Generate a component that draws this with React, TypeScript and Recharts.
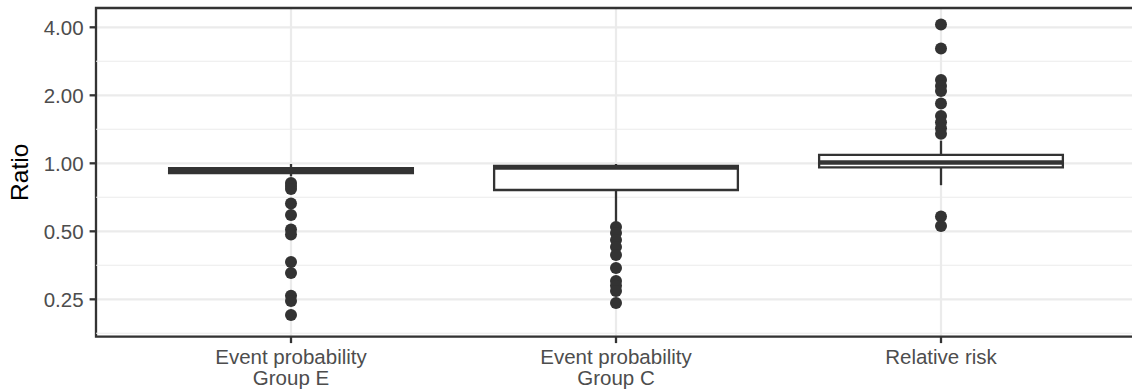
import React from "react";
import {
  ComposedChart,
  XAxis,
  YAxis,
  CartesianGrid,
  Scatter,
  ReferenceArea,
  ReferenceLine,
} from "recharts";

// ---- data ----
const categories = ["Event probability\nGroup E", "Event probability\nGroup C", "Relative risk"];
const whiskerLow = [0.875, 0.551, 0.8];
const q1 = [0.905, 0.762, 0.96];
const median = [0.93, 0.958, 1.008];
const q3 = [0.952, 0.973, 1.09];
const whiskerHigh = [0.993, 0.993, 1.26];
const outliersE = [0.818, 0.794, 0.77, 0.664, 0.59, 0.509, 0.484, 0.366, 0.327, 0.259, 0.246, 0.213];
const outliersC = [0.522, 0.491, 0.458, 0.426, 0.393, 0.344, 0.301, 0.287, 0.272, 0.241];
const outliersRR = [4.12, 3.22, 2.34, 2.2, 2.09, 1.84, 1.62, 1.52, 1.43, 1.35, 0.582, 0.528];
const yTicks = [0.25, 0.5, 1, 2, 4];
const yMinor = [0.1768, 0.3536, 0.7071, 1.4142, 2.8284];
const yDomain = [0.1708, 4.87];

const outlierSets = [outliersE, outliersC, outliersRR];
const outlierData = outlierSets.flatMap((arr, i) => arr.map((v) => ({ x: i + 1, y: v })));

const FONT = "'Liberation Sans', Arial, Helvetica, sans-serif";
const DARK = "#333333";
const HALF = 0.375;

const XTick = (props: any) => {
  const { x, y, payload } = props;
  const lines = categories[Math.round(payload.value) - 1].split("\n");
  return (
    <text x={x} y={y} textAnchor="middle" fill="#4d4d4d" fontSize={20.5} fontFamily={FONT}>
      {lines.map((l, i) => (
        <tspan key={i} x={x} dy={i === 0 ? 20.5 : 21}>
          {l}
        </tspan>
      ))}
    </text>
  );
};

const Dot = (props: any) => <circle cx={props.cx} cy={props.cy} r={6} fill={DARK} />;

export default function App() {
  return (
    <div style={{ position: "absolute", left: 0, top: 0, width: 1132, height: 390, overflow: "hidden", background: "#fff" }}>
      <ComposedChart width={1140} height={390} margin={{ top: 8, right: 4, bottom: 0, left: 0 }}>
        <CartesianGrid stroke="#ebebeb" strokeWidth={2.2} />
        <XAxis
          type="number"
          dataKey="x"
          domain={[0.4, 3.6]}
          ticks={[1, 2, 3]}
          allowDataOverflow
          height={53.3}
          tickSize={6.4}
          tickMargin={0}
          axisLine={false}
          tickLine={{ stroke: DARK, strokeWidth: 2.3 }}
          tick={<XTick />}
          interval={0}
        />
        <YAxis
          type="number"
          dataKey="y"
          scale="log"
          domain={yDomain}
          allowDataOverflow
          ticks={yTicks}
          interval={0}
          width={96}
          tickSize={6.4}
          tickMargin={6}
          axisLine={false}
          tickLine={{ stroke: DARK, strokeWidth: 2.3 }}
          tick={{ fill: "#4d4d4d", fontSize: 20.5, fontFamily: FONT }}
          tickFormatter={(v: number) => v.toFixed(2)}
          label={{
            content: (p: any) => {
              const vb = p.viewBox || {};
              const cy = (vb.y ?? 8) + (vb.height ?? 328.7) / 2;
              return (
                <text
                  transform={`translate(28, ${cy}) rotate(-90)`}
                  textAnchor="middle"
                  fill="#000"
                  fontSize={24.5}
                  fontFamily={FONT}
                >
                  Ratio
                </text>
              );
            },
          }}
        />
        {yMinor.map((v) => (
          <ReferenceLine key={"m" + v} y={v} stroke="#ebebeb" strokeWidth={1.1} />
        ))}
        <Scatter data={outlierData} dataKey="y" shape={<Dot />} isAnimationActive={false} />
        {categories.map((_, i) => (
          <ReferenceLine
            key={"wl" + i}
            segment={[
              { x: i + 1, y: whiskerLow[i] },
              { x: i + 1, y: q1[i] },
            ]}
            stroke={DARK}
            strokeWidth={2.3}
          />
        ))}
        {categories.map((_, i) => (
          <ReferenceLine
            key={"wh" + i}
            segment={[
              { x: i + 1, y: q3[i] },
              { x: i + 1, y: whiskerHigh[i] },
            ]}
            stroke={DARK}
            strokeWidth={2.3}
          />
        ))}
        {categories.map((_, i) => (
          <ReferenceArea
            key={"box" + i}
            x1={i + 1 - HALF}
            x2={i + 1 + HALF}
            y1={q1[i]}
            y2={q3[i]}
            fill="#ffffff"
            fillOpacity={1}
            stroke={DARK}
            strokeWidth={2.3}
          />
        ))}
        {categories.map((_, i) => (
          <ReferenceLine
            key={"med" + i}
            segment={[
              { x: i + 1 - HALF, y: median[i] },
              { x: i + 1 + HALF, y: median[i] },
            ]}
            stroke={DARK}
            strokeWidth={4.6}
          />
        ))}
        <ReferenceArea
          x1={0.4}
          x2={3.6}
          y1={yDomain[0]}
          y2={yDomain[1]}
          fill="none"
          fillOpacity={0}
          stroke={DARK}
          strokeWidth={2.3}
        />
      </ComposedChart>
    </div>
  );
}
